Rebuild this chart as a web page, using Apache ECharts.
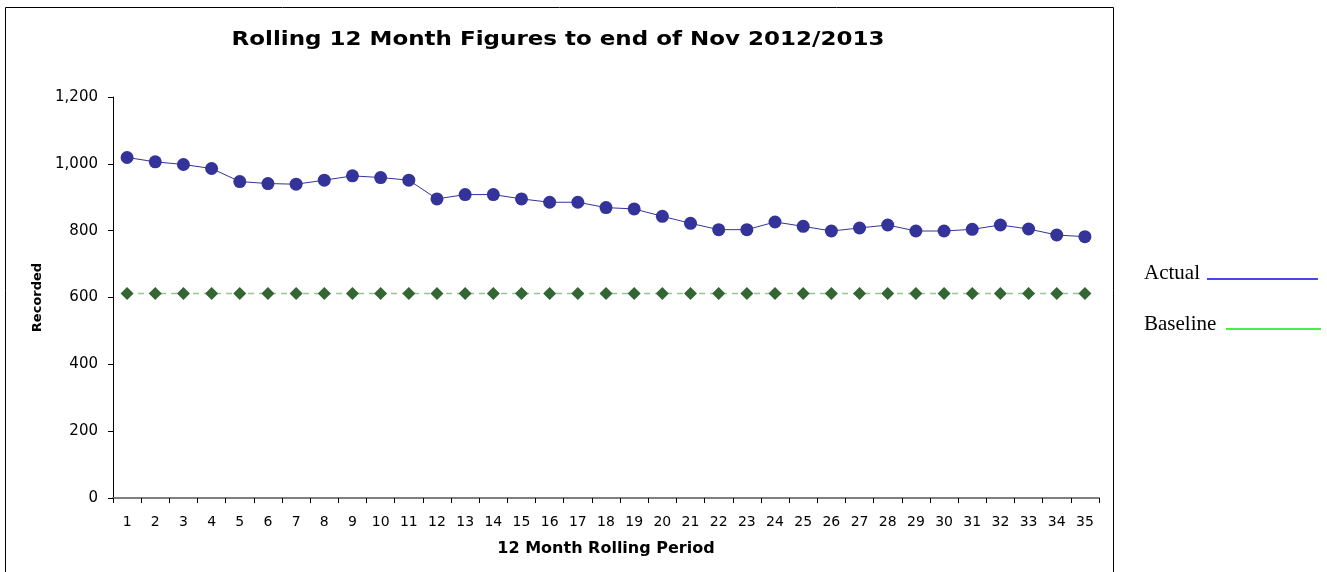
<!DOCTYPE html>
<html>
<head>
<meta charset="utf-8">
<script src="https://cdn.jsdelivr.net/npm/echarts@6/dist/echarts.min.js"></script>
<style>
  html, body { margin: 0; padding: 0; background: #fff; }
  #chart { width: 1327px; height: 572px; }
</style>
</head>
<body>
<div id="chart"></div>
<script>
  // 12 month rolling periods 1..35
  var periods = ['1', '2', '3', '4', '5', '6', '7', '8', '9', '10', '11', '12',
                 '13', '14', '15', '16', '17', '18', '19', '20', '21', '22', '23', '24',
                 '25', '26', '27', '28', '29', '30', '31', '32', '33', '34', '35'];

  var actual = [1019, 1006, 998, 986, 947, 941, 939, 951, 964, 959, 951, 895,
                908, 908, 895, 885, 885, 869, 865, 843, 822, 803, 803, 826,
                813, 799, 808, 817, 799, 799, 804, 817, 805, 787, 782];

  var baseline = [612, 612, 612, 612, 612, 612, 612, 612, 612, 612, 612, 612,
                  612, 612, 612, 612, 612, 612, 612, 612, 612, 612, 612, 612,
                  612, 612, 612, 612, 612, 612, 612, 612, 612, 612, 612];

  var titleText = 'Rolling 12 Month Figures to end of Nov 2012/2013';
  var legendNames = ['Actual', 'Baseline'];

  var myChart = echarts.init(document.getElementById('chart'));

  myChart.setOption({
    animation: false,
    grid: {
      left: 113,
      top: 97,
      width: 986,
      height: 401
    },
    xAxis: {
      type: 'category',
      data: periods,
      boundaryGap: true,
      name: '12 Month Rolling Period',
      nameLocation: 'middle',
      nameGap: 43,
      nameTextStyle: {
        fontFamily: 'DejaVu Sans',
        fontSize: 16,
        fontWeight: 'bold',
        color: '#000'
      },
      axisLine: { lineStyle: { color: '#7f7f7f', width: 2 } },
      axisTick: { show: true, length: 5, lineStyle: { color: '#000' } },
      axisLabel: {
        margin: 17,
        fontFamily: 'DejaVu Sans',
        fontSize: 14,
        color: '#000'
      },
      splitLine: { show: false }
    },
    yAxis: {
      type: 'value',
      min: 0,
      max: 1200,
      interval: 200,
      name: 'Recorded',
      nameLocation: 'middle',
      nameGap: 62,
      nameTextStyle: {
        fontFamily: 'DejaVu Sans',
        fontSize: 13,
        fontWeight: 'bold',
        color: '#000'
      },
      axisLine: { show: true, lineStyle: { color: '#000', width: 1 } },
      axisTick: { show: true, length: 5, lineStyle: { color: '#000' } },
      axisLabel: {
        margin: 15,
        fontFamily: 'DejaVu Sans',
        fontSize: 15,
        color: '#000',
        formatter: function (v) {
          return v.toLocaleString('en-US');
        }
      },
      splitLine: { show: false }
    },
    series: [
      {
        name: legendNames[0],
        type: 'line',
        data: actual,
        symbol: 'circle',
        symbolSize: 13,
        itemStyle: { color: '#333399' },
        lineStyle: { color: '#333399', width: 1 }
      },
      {
        name: legendNames[1],
        type: 'line',
        data: baseline,
        symbol: 'diamond',
        symbolSize: 13,
        itemStyle: { color: '#336633' },
        lineStyle: { color: '#99c299', width: 1.5, type: [6, 5] }
      }
    ],
    graphic: [
      {
        type: 'rect',
        shape: { x: 5.5, y: 7.5, width: 1108, height: 600 },
        style: { fill: 'none', stroke: '#000', lineWidth: 1 },
        silent: true
      },
      {
        type: 'text',
        x: 558,
        y: 40,
        scaleX: 1.21,
        style: {
          text: titleText,
          font: 'bold 19px "DejaVu Sans"',
          fill: '#000',
          align: 'center',
          verticalAlign: 'middle'
        }
      },
      {
        type: 'text',
        x: 1144,
        y: 273,
        style: {
          text: legendNames[0],
          font: '21px "Liberation Serif"',
          fill: '#000',
          align: 'left',
          verticalAlign: 'middle'
        }
      },
      {
        type: 'line',
        shape: { x1: 1207, y1: 279, x2: 1318, y2: 279 },
        style: { stroke: '#4646f0', lineWidth: 2 }
      },
      {
        type: 'text',
        x: 1144,
        y: 324,
        style: {
          text: legendNames[1],
          font: '21px "Liberation Serif"',
          fill: '#000',
          align: 'left',
          verticalAlign: 'middle'
        }
      },
      {
        type: 'line',
        shape: { x1: 1226, y1: 329, x2: 1321, y2: 329 },
        style: { stroke: '#46f046', lineWidth: 2 }
      }
    ]
  });
</script>
</body>
</html>
